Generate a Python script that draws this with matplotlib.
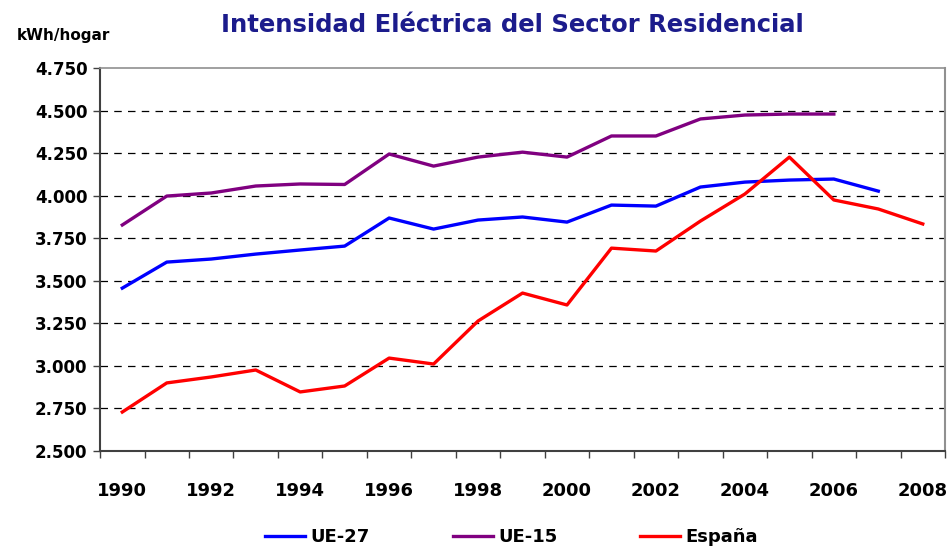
import matplotlib.pyplot as plt
import numpy as np

years = list(range(1990, 2009))
ue27 = [3.457, 3.610, 3.628, 3.657, 3.681, 3.704, 3.869, 3.804, 3.857, 3.875,
        3.845, 3.945, 3.939, 4.051, 4.080, 4.092, 4.098, 4.027]
ue15 = [3.828, 3.998, 4.016, 4.057, 4.069, 4.066, 4.245, 4.174, 4.227, 4.256,
        4.227, 4.351, 4.351, 4.451, 4.474, 4.480, 4.480]
espana = [2.729, 2.900, 2.935, 2.976, 2.847, 2.882, 3.046, 3.011, 3.264, 3.428,
          3.358, 3.692, 3.675, 3.851, 4.010, 4.227, 3.975, 3.922, 3.834]
yticks = [2.5, 2.75, 3.0, 3.25, 3.5, 3.75, 4.0, 4.25, 4.5, 4.75]

plt.rcParams["font.family"] = "DejaVu Sans"
plt.rcParams["font.weight"] = "bold"

fig = plt.figure(figsize=(9.53, 5.49), dpi=100)
ax = fig.add_axes([0.105, 0.1785, 0.8866, 0.6975])

ax.plot(years[:len(ue27)], ue27, color="#0000FF", lw=2.4, label="UE-27", zorder=3)
ax.plot(years[:len(ue15)], ue15, color="#800080", lw=2.4, label="UE-15", zorder=3)
ax.plot(years, espana, color="#FF0000", lw=2.4, label="España", zorder=3)

ax.set_xlim(1989.5, 2008.5)
ax.set_ylim(2.5, 4.75)

# y axis
ax.set_yticks(yticks)
ax.set_yticklabels([f"{v:.3f}" for v in yticks], fontsize=12, fontweight="bold")
ax.tick_params(axis="y", direction="out", length=5, width=1, color="#404040", pad=4)
for v in yticks[1:-1]:
    ax.axhline(v, color="black", lw=0.9, ls=(0, (6, 5)), zorder=1)

# x axis: category style, ticks between categories
ax.set_xticks(years[::2])
ax.set_xticklabels([str(y) for y in years[::2]], fontsize=13, fontweight="bold")
ax.set_xticks(np.arange(1989.5, 2009.0, 1.0), minor=True)
ax.tick_params(axis="x", which="major", length=0, pad=22)
ax.tick_params(axis="x", which="minor", direction="out", length=5, width=1, color="#404040")

ax.spines["left"].set_color("#404040")
ax.spines["left"].set_linewidth(1.5)
ax.spines["bottom"].set_color("#404040")
ax.spines["bottom"].set_linewidth(1.5)
ax.spines["top"].set_color("#909090")
ax.spines["top"].set_linewidth(1.2)
ax.spines["right"].set_color("#909090")
ax.spines["right"].set_linewidth(1.5)

fig.text(0.538, 0.955, "Intensidad Eléctrica del Sector Residencial", ha="center", va="center",
         fontsize=17.5, fontweight="bold", color="#1C1C8C")
fig.text(0.018, 0.935, "kWh/hogar", ha="left", va="center", fontsize=11, fontweight="bold")

leg = fig.legend(loc="center", bbox_to_anchor=(0.537, 0.022), ncol=3, frameon=False,
                 fontsize=13, handlelength=2.2, columnspacing=4.6, handletextpad=0.3)

fig.savefig("out.png", dpi=100, facecolor="white")
